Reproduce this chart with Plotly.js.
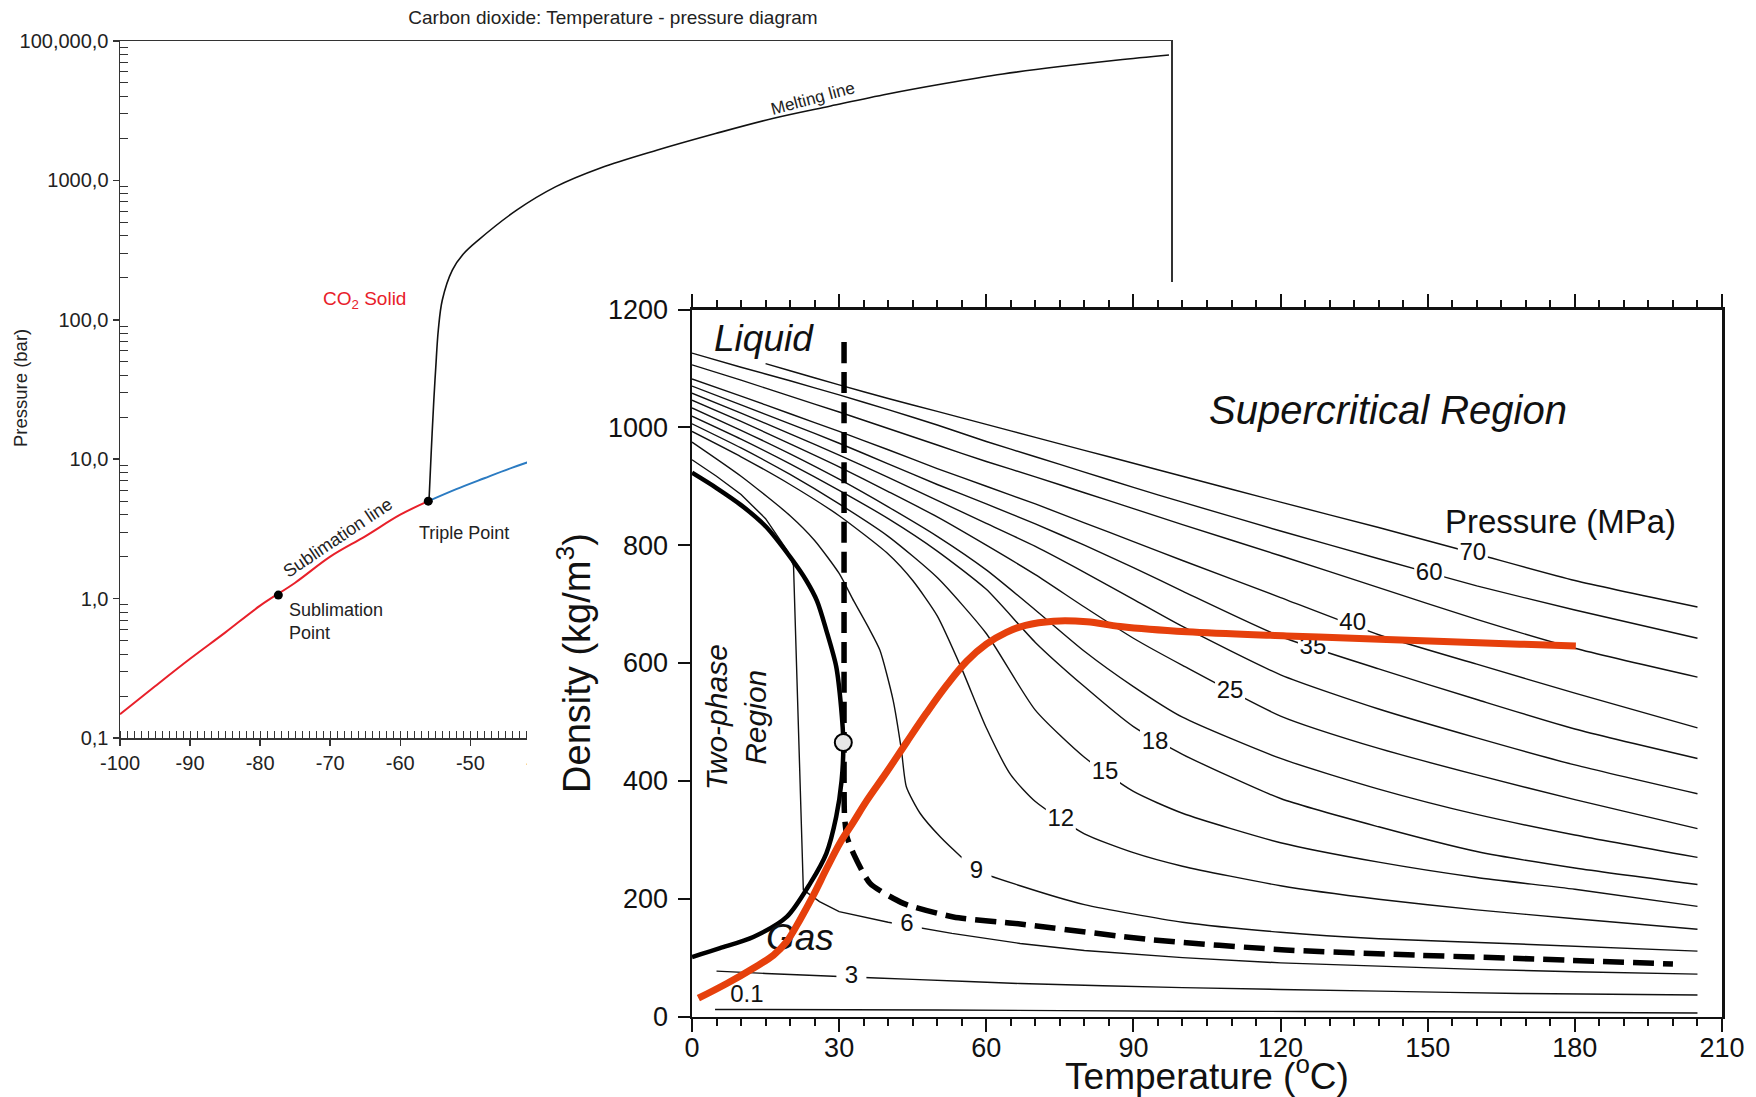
<!DOCTYPE html>
<html>
<head>
<meta charset="utf-8">
<script src="https://cdn.plot.ly/plotly-3.0.1.min.js"></script>
<style>
html,body{margin:0;padding:0;background:#fff;}
#chart{width:1756px;height:1097px;}
</style>
</head>
<body>
<div id="chart"></div>
<script>
// ================= LEFT CHART: temperature - pressure (bar, log) =================
const sublimationT = [-100, -95, -90, -85, -80, -75, -70, -65, -60, -56];
const sublimationP = [0.148, 0.235, 0.37, 0.57, 0.89, 1.3, 2.0, 2.8, 4.0, 5.0];

const vaporT = [-56, -52, -48, -44, -40];
const vaporP = [5.0, 6.1, 7.3, 8.7, 10.2];

const meltT = [-55.9, -55.57, -55.21, -54.93, -54.57, -54.0, -52.57, -51.0, -48.86, -43.34, -37.86, -31.43, -23.29, -15.0, -6.86, 1.43, 9.57, 17.71, 26.0, 34.14, 42.43, 49.71];
const meltP = [5.0, 11.6, 26.6, 45.8, 84.5, 138.7, 227.5, 296.5, 373, 614, 898, 1227, 1652, 2169, 2780, 3420, 4169, 4955, 5799, 6561, 7310, 7940];

const pointT = [-77.4, -56];
const pointP = [1.06, 5.0];

const leftTempTicks = [-100, -90, -80, -70, -60, -50, -40, -30, -20, -10, 0, 10, 20, 30, 40, 50];
const leftPressTicks = [0.1, 1, 10, 100, 1000, 10000];
const leftPressLabels = ['0,1', '1,0', '10,0', '100,0', '1000,0', '100,000,0'];

// ================= RIGHT CHART: density vs temperature isobars =================
const gridT = [0, 10, 20, 30, 40, 50, 60, 70, 80, 90, 100, 120, 140, 160, 180, 205];
const p60D = [1126, 1102, 1079, 1055, 1030, 1004, 976, 950, 924, 898, 873, 824, 777, 731, 690, 642];
const p50D = [1106, 1080, 1053, 1026, 998, 970, 942, 916, 889, 862, 835, 782, 728, 674, 625, 576];
const p40D = [1082, 1053, 1023, 993, 962, 930, 900, 870, 838, 806, 774, 711, 648, 598, 549, 490];
const p35D = [1070, 1038, 1006, 973, 938, 903, 870, 836, 800, 762, 722, 645, 590, 538, 488, 438];
const p30D = [1058, 1024, 989, 953, 915, 876, 837, 798, 754, 708, 662, 580, 522, 473, 427, 378];
const p25D = [1046, 1010, 972, 933, 891, 848, 800, 750, 695, 642, 596, 510, 455, 410, 368, 319];
const p20D = [1033, 995, 955, 912, 865, 815, 758, 690, 620, 560, 508, 438, 386, 343, 308, 270];
const p18D = [1019, 980, 938, 893, 845, 790, 725, 635, 560, 492, 445, 370, 322, 280, 252, 224];
const p15D = [1006, 965, 920, 870, 815, 745, 650, 520, 440, 382, 345, 295, 262, 236, 216, 187];

const p70T = [15, 20, 30, 40, 50, 60, 70, 80, 90, 100, 120, 140, 160, 180, 205];
const p70D = [1108, 1096, 1072, 1049, 1027, 1005, 983, 961, 939, 917, 873, 830, 785, 740, 695];

const p12T = [0, 10, 20, 30, 40, 45, 50, 55, 60, 65, 70, 80, 90, 100, 120, 140, 160, 180, 205];
const p12D = [993, 950, 903, 850, 785, 740, 680, 590, 490, 410, 365, 310, 278, 255, 222, 199, 181, 166, 148];

const p9T = [0, 10, 20, 25, 30, 33, 36, 38.3, 41, 42.7, 43.7, 46.5, 50.6, 55, 58, 66.9, 80, 100, 120, 140, 168.8, 205];
const p9D = [975, 917, 850, 808, 752, 705, 660, 622, 537, 452, 390, 345, 305, 270, 248, 222, 190, 160, 143, 132, 123, 111];

const p6T = [0, 5, 10, 15, 19.5, 20.7, 22.7, 26, 30, 40, 53, 66.9, 80, 100, 120, 140, 160, 180, 205];
const p6D = [945, 917, 886, 845, 790, 765, 215, 195, 178, 160, 141, 124, 112, 100, 91, 85, 80, 76, 72];

const p3T = [5, 15, 30, 45, 66.9, 100, 140, 168.8, 205];
const p3D = [77, 73, 68, 63, 56, 49, 43, 39, 36.5];

const p01T = [4.7, 50, 100, 150, 205];
const p01D = [12, 11, 9, 8, 6];

// saturation dome (liquid branch up to critical point, then vapour branch)
const satT = [0, 5, 10, 15, 20, 23.3, 25.5, 27.4, 29.4, 30.4, 30.85, 30.5, 29.4, 27.4, 24.1, 19.3, 12.5, 5.7, 0];
const satD = [923, 897, 868, 832, 780, 740, 705, 655, 594, 525, 465, 400, 339, 277, 226, 169, 135, 116, 101];

// dashed critical line
const critLineT = [31, 31, 31, 31, 31.1, 31.6, 32.9, 36.3, 43.1, 53.3, 66.9, 94, 121, 148, 167, 200];
const critLineD = [1145, 900, 600, 465, 340, 305, 277, 226, 192, 169, 157, 130, 113, 104, 99, 89];

const criticalT = [30.85];
const criticalD = [465];

// orange-red path
const pathT = [1.3, 7.1, 12.5, 16.6, 19.3, 22, 24.7, 27.5, 30.2, 32.9, 35.6, 39.7, 43.8, 47.8, 51.9, 56, 60, 64.1, 68, 73.7, 80.5, 87.3, 100.9, 121.2, 141.6, 168.8, 180.2];
const pathD = [31, 56, 82, 104, 127, 164, 205, 252, 295, 330, 366, 415, 466, 515, 562, 603, 632, 652, 664, 671, 670, 662, 653, 646, 640, 632, 629];

// isobar labels (pressure, MPa)
const isoLabelText = ['70', '60', '40', '35', '25', '18', '15', '12', '9', '6', '3'];
const isoLabelT = [159.2, 150.3, 134.7, 126.6, 109.7, 94.4, 84.2, 75.2, 58.0, 43.8, 32.5];
const isoLabelD = [785, 751, 667, 625, 551, 464, 413, 334, 246, 155, 67];

const tempTicks = [0, 30, 60, 90, 120, 150, 180, 210];
const densTicks = [0, 200, 400, 600, 800, 1000, 1200];

// ================= BUILD =================
const FONT = 'Liberation Sans, Arial, Helvetica, sans-serif';
const traces = [];

// left chart
traces.push({x: sublimationT, y: sublimationP, xaxis: 'x', yaxis: 'y', mode: 'lines', line: {color: '#e8202a', width: 2, shape: 'spline'}, hoverinfo: 'skip'});
traces.push({x: vaporT, y: vaporP, xaxis: 'x', yaxis: 'y', mode: 'lines', line: {color: '#2b7bc2', width: 2, shape: 'spline'}, hoverinfo: 'skip'});
traces.push({x: meltT, y: meltP, xaxis: 'x', yaxis: 'y', mode: 'lines', line: {color: '#111', width: 1.6, shape: 'spline', smoothing: 1}, hoverinfo: 'skip'});
traces.push({x: pointT, y: pointP, xaxis: 'x', yaxis: 'y', mode: 'markers', marker: {color: '#000', size: 9}, hoverinfo: 'skip'});

// blocker subplot (white panel of the overlaid figure)
traces.push({x: [], y: [], xaxis: 'x2', yaxis: 'y2', type: 'scatter', mode: 'lines', hoverinfo: 'skip'});

// right chart isobars
const thin = {color: '#111', width: 1.4, shape: 'spline', smoothing: 0.6};
function iso(xs, ys, lineOpts) {
  traces.push({x: xs, y: ys, xaxis: 'x3', yaxis: 'y3', mode: 'lines', line: Object.assign({}, thin, lineOpts || {}), hoverinfo: 'skip'});
}
iso(p70T, p70D);
iso(gridT, p60D);
iso(gridT, p50D);
iso(gridT, p40D);
iso(gridT, p35D);
iso(gridT, p30D);
iso(gridT, p25D);
iso(gridT, p20D);
iso(gridT, p18D);
iso(gridT, p15D);
iso(p12T, p12D);
iso(p9T, p9D);
iso(p6T, p6D, {shape: 'linear'});
iso(p3T, p3D);
iso(p01T, p01D);

// isobar labels with white gap
traces.push({x: isoLabelT, y: isoLabelD, text: isoLabelText, xaxis: 'x3', yaxis: 'y3', mode: 'markers+text',
  marker: {symbol: 'square', size: 30, color: '#fff', line: {width: 0}},
  textposition: 'middle center', textfont: {family: FONT, size: 24, color: '#111'}, hoverinfo: 'skip', cliponaxis: false});
traces.push({x: [11.2], y: [35], text: ['0.1'], xaxis: 'x3', yaxis: 'y3', mode: 'text',
  textposition: 'middle center', textfont: {family: FONT, size: 24, color: '#111'}, hoverinfo: 'skip'});

// dashed critical line
traces.push({x: critLineT, y: critLineD, xaxis: 'x3', yaxis: 'y3', mode: 'lines',
  line: {color: '#000', width: 5.5, dash: '21px,9px', shape: 'spline', smoothing: 0.6}, hoverinfo: 'skip'});
// saturation dome
traces.push({x: satT, y: satD, xaxis: 'x3', yaxis: 'y3', mode: 'lines',
  line: {color: '#000', width: 4.5, shape: 'spline', smoothing: 0.8}, hoverinfo: 'skip'});
// critical point
traces.push({x: criticalT, y: criticalD, xaxis: 'x3', yaxis: 'y3', mode: 'markers',
  marker: {size: 17, color: '#e6e6e6', line: {color: '#000', width: 2}}, hoverinfo: 'skip'});
// Gas label (under the red path)
traces.push({x: [22], y: [128], text: ['<i>Gas</i>'], xaxis: 'x3', yaxis: 'y3', mode: 'text',
  textposition: 'middle center', textfont: {family: FONT, size: 37, color: '#111'}, hoverinfo: 'skip'});
// red path
traces.push({x: pathT, y: pathD, xaxis: 'x3', yaxis: 'y3', mode: 'lines',
  line: {color: '#e6400c', width: 7, shape: 'spline', smoothing: 1}, hoverinfo: 'skip'});

// minor log ticks for left y axis
const minorP = [];
for (let e = -1; e < 4; e++) { for (let k = 2; k <= 9; k++) { minorP.push(k * Math.pow(10, e)); } }

const W = 1756, H = 1097;
const px = v => v / W;
const py = v => (H - v) / H;

const layout = {
  width: W, height: H, autosize: false,
  margin: {l: 0, r: 0, t: 0, b: 0, pad: 0},
  paper_bgcolor: '#fff', plot_bgcolor: '#fff',
  showlegend: false,
  font: {family: FONT, color: '#222'},
  title: {text: 'Carbon dioxide: Temperature - pressure diagram', x: px(613), xref: 'paper', y: py(17), yref: 'paper',
    xanchor: 'center', yanchor: 'middle', font: {family: FONT, size: 19, color: '#222'}},
  xaxis: {
    domain: [px(120), px(1171)], range: [-100, 50], anchor: 'y',
    tickmode: 'array', tickvals: leftTempTicks, ticktext: leftTempTicks.map(v => String(v)),
    ticks: 'outside', ticklen: 6, tickwidth: 1.5, tickcolor: '#333',
    showline: true, linecolor: '#333', linewidth: 1.5, mirror: true,
    showgrid: false, zeroline: false, tickfont: {family: FONT, size: 20, color: '#222'},
    minor: {dtick: 1, tick0: -100, ticks: 'inside', ticklen: 7, tickwidth: 1, tickcolor: '#333', showgrid: false}
  },
  yaxis: {
    domain: [py(738), py(41)], type: 'log', range: [-1, 4], anchor: 'x',
    tickmode: 'array', tickvals: leftPressTicks, ticktext: leftPressLabels,
    ticks: 'outside', ticklen: 6, tickwidth: 1.5, tickcolor: '#333',
    showline: true, linecolor: '#333', linewidth: 1.5, mirror: true,
    showgrid: false, zeroline: false, tickfont: {family: FONT, size: 20, color: '#222'},
    minor: {tickmode: 'array', tickvals: minorP, ticks: 'inside', ticklen: 8, tickwidth: 1, tickcolor: '#333', showgrid: false}
  },
  xaxis2: {domain: [px(527), 1], range: [0, 1], anchor: 'y2', visible: false, fixedrange: true},
  yaxis2: {domain: [0, py(282)], range: [0, 1], anchor: 'x2', visible: false, fixedrange: true},
  xaxis3: {
    domain: [px(692), px(1722)], range: [0, 210], anchor: 'y3',
    tickmode: 'array', tickvals: tempTicks,
    ticks: 'outside', ticklen: 13, tickwidth: 2, tickcolor: '#111',
    showline: true, linecolor: '#111', linewidth: 2.5, mirror: 'ticks',
    showgrid: false, zeroline: false, tickfont: {family: FONT, size: 27, color: '#111'},
    ticklabelstandoff: -7,
    minor: {dtick: 5, tick0: 0, ticks: 'outside', ticklen: 7, tickwidth: 2, tickcolor: '#111', showgrid: false},
    title: {text: 'Temperature (<sup>o</sup>C)', font: {family: FONT, size: 37, color: '#111'}, standoff: 13}
  },
  yaxis3: {
    domain: [py(1016.5), py(309.5)], range: [0, 1200], anchor: 'x3',
    tickmode: 'array', tickvals: densTicks,
    ticks: 'outside', ticklen: 12, tickwidth: 2, tickcolor: '#111',
    showline: true, linecolor: '#111', linewidth: 2.5, mirror: true,
    showgrid: false, zeroline: false, tickfont: {family: FONT, size: 27, color: '#111'},
    ticklabelstandoff: 4,
    title: {text: 'Density (kg/m<sup>3</sup>)', font: {family: FONT, size: 38, color: '#111'}, standoff: 6}
  },
  annotations: [
    {text: 'Pressure (bar)', xref: 'paper', yref: 'paper', x: px(20), y: py(388), textangle: -90, showarrow: false,
      xanchor: 'center', yanchor: 'middle', font: {family: FONT, size: 18.5, color: '#222'}},
    {text: 'CO<sub>2</sub> Solid', xref: 'x', yref: 'y', x: -65.1, y: 2.142, showarrow: false,
      font: {family: FONT, size: 19, color: '#e8202a'}},
    {text: 'Melting line', xref: 'x', yref: 'y', x: -1.1, y: 3.584, textangle: -15, showarrow: false,
      font: {family: FONT, size: 17, color: '#222'}},
    {text: 'Sublimation line', xref: 'x', yref: 'y', x: -69, y: 0.438, textangle: -34, showarrow: false,
      font: {family: FONT, size: 18, color: '#222'}},
    {text: 'Triple Point', xref: 'x', yref: 'y', x: -50.9, y: 0.471, showarrow: false,
      font: {family: FONT, size: 18, color: '#222'}},
    {text: 'Sublimation<br>Point', xref: 'x', yref: 'y', x: -76.1, y: -0.161, showarrow: false,
      xanchor: 'left', align: 'left', font: {family: FONT, size: 18, color: '#222'}},
    {text: '<i>Liquid</i>', xref: 'x3', yref: 'y3', x: 14.7, y: 1151, showarrow: false,
      font: {family: FONT, size: 37, color: '#111'}},
    {text: '<i>Supercritical Region</i>', xref: 'x3', yref: 'y3', x: 141.9, y: 1029, showarrow: false,
      font: {family: FONT, size: 40, color: '#111'}},
    {text: 'Pressure (MPa)', xref: 'x3', yref: 'y3', x: 177, y: 841, showarrow: false,
      font: {family: FONT, size: 33, color: '#111'}},
    {text: '<i>Two-phase<br>Region</i>', xref: 'x3', yref: 'y3', x: 9.0, y: 508, textangle: -90, showarrow: false,
      font: {family: FONT, size: 30, color: '#111'}}
  ]
};

Plotly.newPlot('chart', traces, layout, {staticPlot: true, displayModeBar: false});
</script>
</body>
</html>
